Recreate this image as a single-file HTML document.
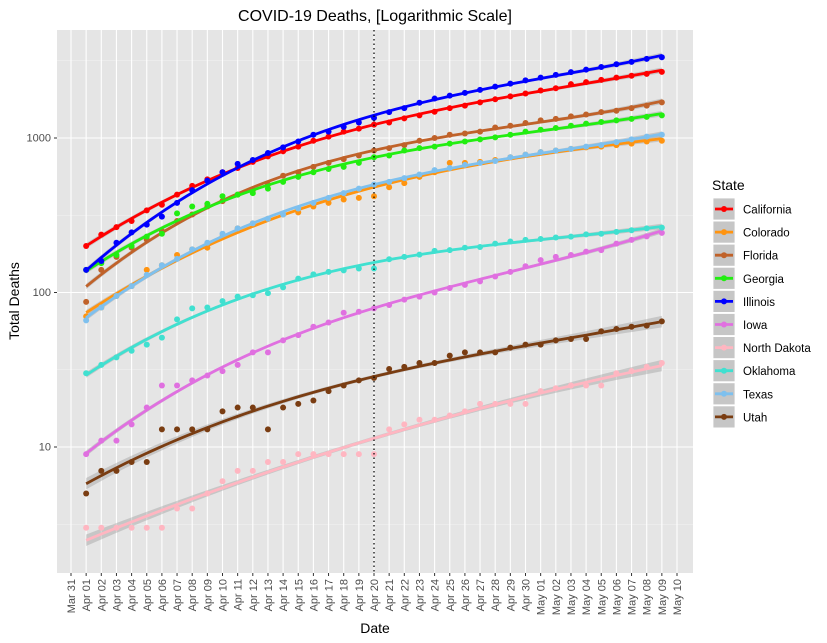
<!DOCTYPE html>
<html><head><meta charset="utf-8"><style>
body{margin:0;background:#fff;}
svg{display:block;font-family:"Liberation Sans",Arial,sans-serif;}
</style></head><body>
<svg id="chart" width="827" height="643" viewBox="0 0 827 643" xmlns="http://www.w3.org/2000/svg">
<rect x="0" y="0" width="827" height="643" fill="#fff"/>
<text x="375" y="21" text-anchor="middle" font-size="16" fill="#000">COVID-19 Deaths, [Logarithmic Scale]</text>
<rect x="57" y="30" width="636" height="543" fill="#e5e5e5"/>
<g id="grid"></g>
<g id="ribbons"></g>
<g id="series"></g>
<line x1="374" y1="30" x2="374" y2="573" stroke="#000" stroke-width="1.2" stroke-dasharray="1.5,3"/>
<g id="axes"></g>
<text x="375" y="633" text-anchor="middle" font-size="14" fill="#000">Date</text>
<text transform="translate(19,301) rotate(-90)" text-anchor="middle" font-size="14" fill="#000">Total Deaths</text>
<g id="legend"></g>
</svg>
<script>
const dayLabels = ["Mar 31","Apr 01","Apr 02","Apr 03","Apr 04","Apr 05","Apr 06","Apr 07","Apr 08","Apr 09","Apr 10","Apr 11","Apr 12","Apr 13","Apr 14","Apr 15","Apr 16","Apr 17","Apr 18","Apr 19","Apr 20","Apr 21","Apr 22","Apr 23","Apr 24","Apr 25","Apr 26","Apr 27","Apr 28","Apr 29","Apr 30","May 01","May 02","May 03","May 04","May 05","May 06","May 07","May 08","May 09","May 10"];
const yTicks = [10,100,1000];
const yTickLabels = ["10","100","1000"];
const stateNames = ["California","Colorado","Florida","Georgia","Illinois","Iowa","North Dakota","Oklahoma","Texas","Utah"];
const stateColors = ["#ff0000","#ff9410","#c0622a","#22ee11","#0000ff","#e070e0","#ffb6c1","#40e0d0","#7ec0ee","#7a3d12"];
const california = [200,237,265,290,340,370,430,490,540,600,640,700,760,820,880,960,1020,1100,1150,1220,1260,1340,1400,1480,1560,1620,1700,1780,1860,1940,2030,2100,2230,2300,2380,2460,2530,2600,2680];
const colorado = [70,80,95,110,140,150,175,190,195,230,260,280,300,320,330,360,380,400,410,420,480,510,560,600,690,690,700,720,750,780,810,830,850,870,880,900,920,950,960];
const florida = [87,140,170,195,220,250,290,320,360,390,430,460,500,570,600,650,690,730,770,830,860,900,960,1000,1050,1070,1100,1170,1200,1250,1300,1330,1380,1420,1470,1500,1560,1620,1700];
const georgia = [140,155,175,200,230,240,325,360,375,420,430,440,470,520,560,600,630,650,690,750,770,830,860,880,920,950,980,1010,1050,1100,1130,1160,1200,1240,1270,1300,1330,1370,1400];
const illinois = [140,160,210,245,275,310,380,460,530,600,680,720,800,870,950,1050,1100,1180,1260,1350,1470,1560,1690,1800,1880,1960,2050,2150,2250,2360,2460,2560,2670,2770,2880,3000,3110,3250,3330];
const iowa = [9,11,11,14,18,25,25,27,29,31,34,41,41,49,53,60,64,74,75,79,83,90,94,100,107,112,118,127,136,148,162,170,175,184,188,207,219,231,243];
const northDakota = [3,3,3,3,3,3,4,4,5,6,7,7,8,8,9,9,9,9,9,9,13,14,15,15,16,17,19,19,19,19,23,24,25,25,25,30,31,33,35];
const oklahoma = [30,34,38,42,46,51,67,79,80,88,94,96,99,108,123,131,136,139,143,143,164,170,176,186,188,195,197,207,214,219,222,227,230,238,240,247,253,260,263];
const texas = [66,80,95,110,130,150,165,190,210,240,260,280,300,320,350,380,410,440,470,500,520,550,580,620,640,670,690,710,750,780,810,830,850,880,900,940,980,1020,1050];
const utah = [5,7,7,8,8,13,13,13,13,17,18,18,13,18,19,20,23,25,27,28,32,33,35,35,39,41,41,41,44,46,46,49,50,50,56,58,60,61,65];
const seriesData = [california,colorado,florida,georgia,illinois,iowa,northDakota,oklahoma,texas,utah];
const firstDay = 1;

const NS="http://www.w3.org/2000/svg";
function xScale(d){return 71 + d*15.15;}
function yScale(v){return 138 - (Math.log10(v)-3)*154.5;}
function mk(tag,attrs,parent){const e=document.createElementNS(NS,tag);for(const k in attrs)e.setAttribute(k,attrs[k]);parent.appendChild(e);return e;}

const grid=document.getElementById('grid');
[0.5,1.5,2.5,3.5].forEach(p=>{const y=yScale(Math.pow(10,p));
 const l=mk('line',{x1:57,x2:693,y1:y,y2:y,stroke:'#f2f2f2','stroke-width':0.6},grid);
 
 });
yTicks.forEach(v=>{const y=yScale(v);
 const l=mk('line',{x1:57,x2:693,y1:y,y2:y,stroke:'#fff','stroke-width':1.1},grid);
 
 });
dayLabels.forEach((lab,i)=>{const x=xScale(i);
 const l=mk('line',{x1:x,x2:x,y1:30,y2:573,stroke:'#fff','stroke-width':1.1},grid);
 
 });

const axes=document.getElementById('axes');
yTicks.forEach((v,i)=>{const y=yScale(v);
 mk('line',{x1:54,x2:57,y1:y,y2:y,stroke:'#333','stroke-width':1},axes);
 const t=mk('text',{x:51,y:y+3.5,'text-anchor':'end','font-size':'11',fill:'#4d4d4d'},axes);
 t.textContent=yTickLabels[i];
 
 });
dayLabels.forEach((lab,i)=>{const x=xScale(i);
 mk('line',{x1:x,x2:x,y1:573,y2:576,stroke:'#333','stroke-width':1},axes);
 const t=mk('text',{transform:`translate(${x+4},579) rotate(-90)`,'text-anchor':'end','font-size':'11',fill:'#4d4d4d'},axes);
 t.textContent=lab;
 
 });

function fit(vals){
 const n=vals.length, deg=3, m=deg+1;
 const A=[];for(let i=0;i<m;i++){A.push(new Array(m+1).fill(0));}
 vals.forEach((v,i)=>{const t=i/(n-1), y=Math.log10(v);
  for(let r=0;r<m;r++){for(let c=0;c<m;c++)A[r][c]+=Math.pow(t,r+c);A[r][m]+=Math.pow(t,r)*y;}});
 for(let c=0;c<m;c++){let p=c;for(let r=c+1;r<m;r++)if(Math.abs(A[r][c])>Math.abs(A[p][c]))p=r;[A[c],A[p]]=[A[p],A[c]];
  for(let r=0;r<m;r++){if(r===c)continue;const f=A[r][c]/A[c][c];for(let k=c;k<=m;k++)A[r][k]-=f*A[c][k];}}
 const co=A.map((row,i)=>row[m]/row[i]);
 return t=>co.reduce((s,c,i)=>s+c*Math.pow(t,i),0);
}

const ribbons=document.getElementById('ribbons'), series=document.getElementById('series');
seriesData.forEach((vals,si)=>{
 const f=fit(vals), n=vals.length, col=stateColors[si];
 const g=mk('g',{},series);
 
 
 vals.forEach((v,i)=>{
  const c=mk('circle',{cx:xScale(firstDay+i),cy:yScale(v),r:3,fill:col},g);
  
  });
 let up=[],lo=[],ln=[];
 const small=Math.log10(vals[n-1])<2;
 for(let k=0;k<=80;k++){const t=k/80, d=firstDay+t*(n-1), ly=f(t);
  const w=(small?0.012:0.006)+(small?0.025:0.012)*Math.pow(2*t-1,2);
  const x=xScale(d);
  ln.push(x.toFixed(2)+','+yScale(Math.pow(10,ly)).toFixed(2));
  up.push(x.toFixed(2)+','+yScale(Math.pow(10,ly+w)).toFixed(2));
  lo.unshift(x.toFixed(2)+','+yScale(Math.pow(10,ly-w)).toFixed(2));}
 const r=mk('polygon',{points:up.concat(lo).join(' '),fill:'#999',opacity:0.4},ribbons);
 
 
 const p=mk('polyline',{points:ln.join(' '),fill:'none',stroke:col,'stroke-width':2.8},g);
 
 
});

const legend=document.getElementById('legend');
const lt=mk('text',{x:712,y:190,'font-size':'14',fill:'#000'},legend);
lt.textContent='State';


stateNames.forEach((nm,i)=>{const y=198+i*23.1;
 const g=mk('g',{},legend);
 
 
 mk('rect',{x:713,y:y,width:22,height:22,fill:'#c6c6c6',stroke:'#fff','stroke-width':0.8},g);
 mk('line',{x1:715,x2:733,y1:y+11,y2:y+11,stroke:stateColors[i],'stroke-width':2.8},g);
 mk('circle',{cx:724,cy:y+11,r:3,fill:stateColors[i]},g);
 const t=mk('text',{x:743,y:y+15.5,'font-size':'11.5',fill:'#000'},g);
 t.textContent=nm;});
</script>
</body></html>
